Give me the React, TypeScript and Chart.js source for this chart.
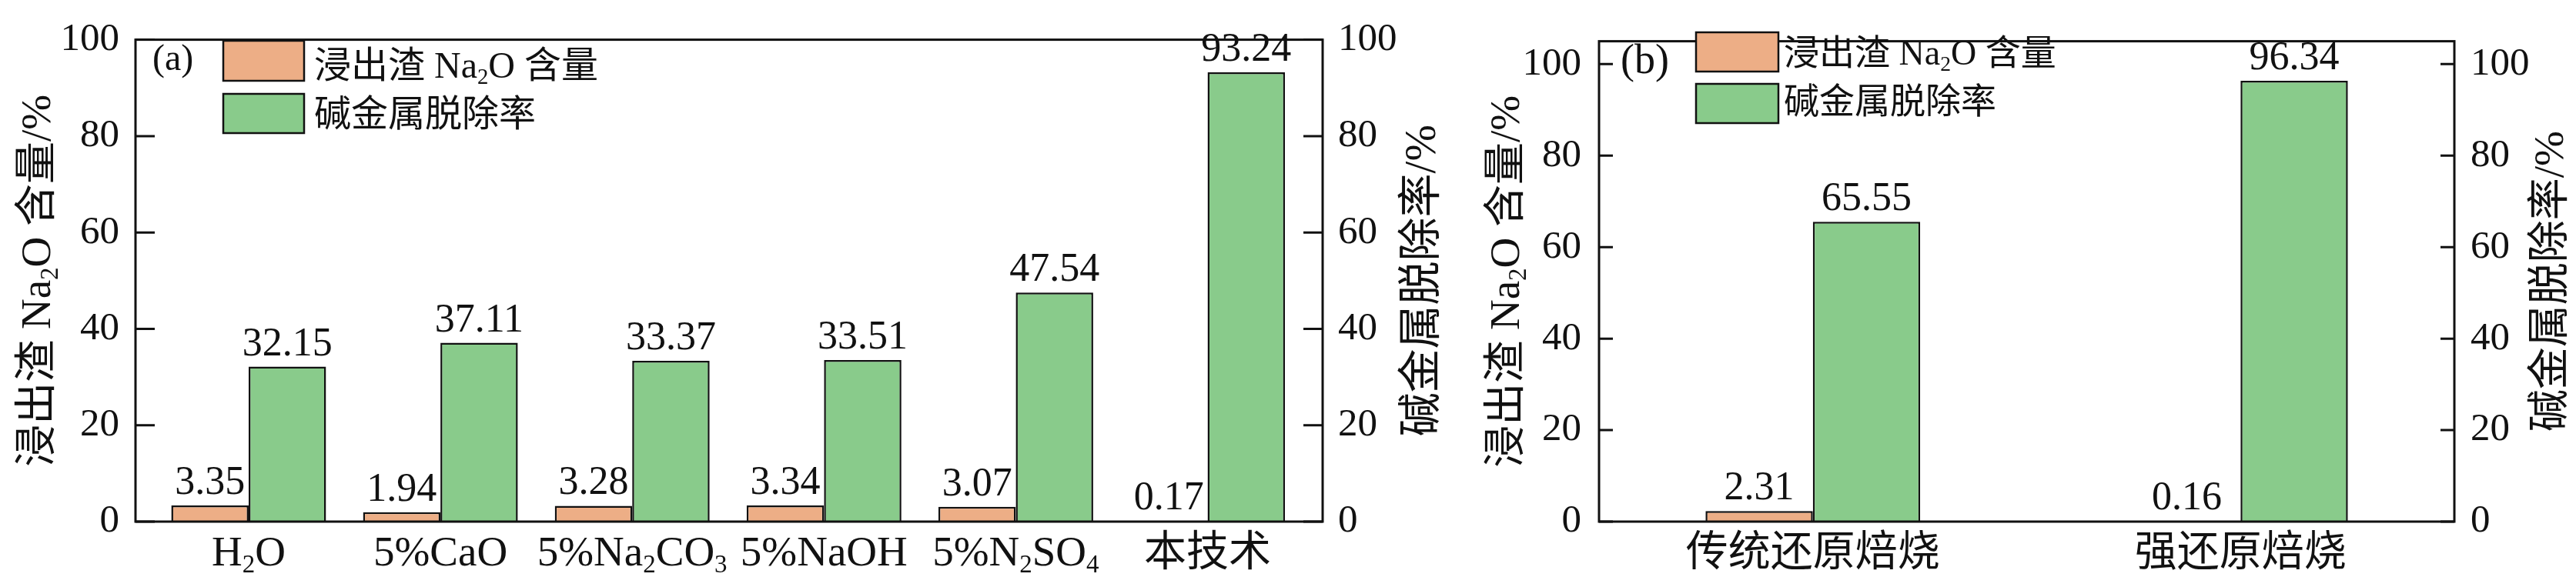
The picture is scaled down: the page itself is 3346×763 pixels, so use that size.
import React, { useEffect, useRef } from 'react';
import { Chart, registerables } from 'chart.js';
Chart.register(...registerables);

// ---------- data ----------
const categoriesA = ['H_2O', '5%CaO', '5%Na_2CO_3', '5%NaOH', '5%N_2SO_4', '本技术'];
const na2oA = [3.35, 1.94, 3.28, 3.34, 3.07, 0.17];
const removalA = [32.15, 37.11, 33.37, 33.51, 47.54, 93.24];

const categoriesB = ['传统还原焙烧', '强还原焙烧'];
const na2oB = [2.31, 0.16];
const removalB = [65.55, 96.34];

const yTicksA = [0, 20, 40, 60, 80, 100];
const yTicksB = [0, 20, 40, 60, 80, 100];

const legendLabels = ['浸出渣 Na_2O 含量', '碱金属脱除率'];
const leftTitle = '浸出渣 Na_2O 含量/%';
const rightTitle = '碱金属脱除率/%';

const ORANGE = '#EDAE86';
const GREEN = '#89CB8B';
const INK = '#111111';
const FAMILY = "'Liberation Serif', 'Noto Sans CJK SC', serif";
const H = 763;

type Seg = { t: string; sub: boolean };
function parseRich(s: string): Seg[] {
  const segs: Seg[] = [];
  let buf = '';
  for (let i = 0; i < s.length; i++) {
    if (s[i] === '_' && i + 1 < s.length) {
      if (buf) { segs.push({ t: buf, sub: false }); buf = ''; }
      segs.push({ t: s[i + 1], sub: true });
      i++;
    } else buf += s[i];
  }
  if (buf) segs.push({ t: buf, sub: false });
  return segs;
}

function drawRich(ctx: CanvasRenderingContext2D, s: string, x: number, y: number, size: number, align: 'left' | 'center' | 'right') {
  const segs = parseRich(s);
  const subSize = size * 0.6;
  const fontOf = (sub: boolean) => `${sub ? subSize : size}px ${FAMILY}`;
  let w = 0;
  for (const seg of segs) { ctx.font = fontOf(seg.sub); w += ctx.measureText(seg.t).width; }
  let cx = align === 'center' ? x - w / 2 : align === 'right' ? x - w : x;
  ctx.textAlign = 'left';
  ctx.textBaseline = 'alphabetic';
  for (const seg of segs) {
    ctx.font = fontOf(seg.sub);
    ctx.fillText(seg.t, cx, y + (seg.sub ? size * 0.17 : 0));
    cx += ctx.measureText(seg.t).width;
  }
}

type Panel = {
  canvasLeft: number; canvasWidth: number;
  plotLeft: number; plotRight: number; plotTop: number; plotBottom: number;
  xMin: number; xMax: number; yMax: number; cp: number;
  leftPad: number; rightPad: number; tickLen: number;
  tickSize: number; dataSize: number; xLabelSize: number; xLabelBase: number;
  label: string; labelX: number; labelBase: number; labelSize: number;
  boxX0: number; boxX1: number; rows: { top: number; bottom: number; base: number }[];
  legendTextX: number; legendSize: number;
  leftTitleX: number; rightTitleX: number; leftTitleSize: number; rightTitleSize: number;
  categories: string[]; na2o: number[]; removal: number[]; yTicks: number[];
};

const panelA: Panel = {
  canvasLeft: 0, canvasWidth: 1880,
  plotLeft: 176, plotRight: 1718, plotTop: 33, plotBottom: 678,
  xMin: -0.59, xMax: 5.6, yMax: 100, cp: 0.807,
  leftPad: 21, rightPad: 20, tickLen: 25,
  tickSize: 51, dataSize: 52, xLabelSize: 55, xLabelBase: 735,
  label: '(a)', labelX: 198, labelBase: 91, labelSize: 48,
  boxX0: 290, boxX1: 395,
  rows: [{ top: 53, bottom: 105, base: 101 }, { top: 122, bottom: 173, base: 164 }],
  legendTextX: 408, legendSize: 48,
  leftTitleX: 44.5, rightTitleX: 1842, leftTitleSize: 55, rightTitleSize: 57,
  categories: categoriesA, na2o: na2oA, removal: removalA, yTicks: yTicksA,
};

const panelB: Panel = {
  canvasLeft: 1880, canvasWidth: 1466,
  plotLeft: 2077, plotRight: 3188, plotTop: 32, plotBottom: 678,
  xMin: -0.5, xMax: 1.5, yMax: 105, cp: 0.502,
  leftPad: 23, rightPad: 21, tickLen: 18,
  tickSize: 51, dataSize: 52, xLabelSize: 55, xLabelBase: 735,
  label: '(b)', labelX: 2105, labelBase: 95, labelSize: 54,
  boxX0: 2203, boxX1: 2310,
  rows: [{ top: 42, bottom: 93, base: 84 }, { top: 109, bottom: 160, base: 147 }],
  legendTextX: 2317, legendSize: 46,
  leftTitleX: 1952, rightTitleX: 3308, leftTitleSize: 55, rightTitleSize: 55,
  categories: categoriesB, na2o: na2oB, removal: removalB, yTicks: yTicksB,
};

function makePlugin(p: Panel) {
  const ox = p.canvasLeft;
  return {
    id: 'panelDecor' + p.label,
    afterDatasetsDraw(chart: any) {
      const ctx: CanvasRenderingContext2D = chart.ctx;
      ctx.save();
      ctx.fillStyle = INK;
      chart.data.datasets.forEach((ds: any, di: number) => {
        const meta = chart.getDatasetMeta(di);
        meta.data.forEach((el: any, i: number) => {
          const v = ds.data[i] as number;
          ctx.font = `${p.dataSize}px ${FAMILY}`;
          ctx.textAlign = 'center';
          ctx.textBaseline = 'alphabetic';
          ctx.fillText(v.toFixed(2), el.x, el.y - 15);
        });
      });
      ctx.restore();
    },
    afterDraw(chart: any) {
      const ctx: CanvasRenderingContext2D = chart.ctx;
      const a = chart.chartArea;
      const xs = chart.scales.x;
      const yl = chart.scales.y;
      const yr = chart.scales.y1;
      ctx.save();
      // frame
      ctx.strokeStyle = INK;
      ctx.lineWidth = 3;
      ctx.strokeRect(a.left, a.top, a.right - a.left, a.bottom - a.top);
      // inward ticks
      ctx.lineWidth = 3;
      ctx.beginPath();
      yl.ticks.forEach((t: any) => {
        const y = yl.getPixelForValue(t.value);
        ctx.moveTo(a.left, y); ctx.lineTo(a.left + p.tickLen, y);
      });
      yr.ticks.forEach((t: any) => {
        const y = yr.getPixelForValue(t.value);
        ctx.moveTo(a.right - p.tickLen, y); ctx.lineTo(a.right, y);
      });
      ctx.stroke();
      // x labels
      ctx.fillStyle = INK;
      p.categories.forEach((c, i) => {
        drawRich(ctx, c, xs.getPixelForValue(i), p.xLabelBase, p.xLabelSize, 'center');
      });
      // panel label
      ctx.font = `${p.labelSize}px ${FAMILY}`;
      ctx.textAlign = 'left';
      ctx.textBaseline = 'alphabetic';
      ctx.fillText(p.label, p.labelX - ox, p.labelBase);
      // legend
      chart.data.datasets.forEach((ds: any, di: number) => {
        const r = p.rows[di];
        ctx.fillStyle = ds.backgroundColor;
        ctx.fillRect(p.boxX0 - ox, r.top, p.boxX1 - p.boxX0, r.bottom - r.top);
        ctx.strokeStyle = INK;
        ctx.lineWidth = 2.5;
        ctx.strokeRect(p.boxX0 - ox, r.top, p.boxX1 - p.boxX0, r.bottom - r.top);
        ctx.fillStyle = INK;
        drawRich(ctx, ds.label, p.legendTextX - ox, r.base, p.legendSize, 'left');
      });
      // axis titles (rotated)
      const cy = (a.top + a.bottom) / 2;
      const titles: [string, number, number][] = [
        [leftTitle, p.leftTitleX - ox, p.leftTitleSize],
        [rightTitle, p.rightTitleX - ox, p.rightTitleSize],
      ];
      titles.forEach(([t, x, s]) => {
        ctx.save();
        ctx.translate(x, cy);
        ctx.rotate(-Math.PI / 2);
        ctx.fillStyle = INK;
        drawRich(ctx, t, 0, 0.38 * s, s, 'center');
        ctx.restore();
      });
      ctx.restore();
    },
  };
}

function buildChart(canvas: HTMLCanvasElement, p: Panel) {
  const tickFont = { family: FAMILY, size: p.tickSize };
  const yCommon = {
    type: 'linear' as const,
    min: 0,
    max: p.yMax,
    grid: { display: false, drawTicks: false },
    border: { display: false },
    afterBuildTicks: (s: any) => { s.ticks = p.yTicks.map((v) => ({ value: v })); },
  };
  return new Chart(canvas, {
    type: 'bar',
    data: {
      labels: p.categories.map((_, i) => i),
      datasets: [
        {
          label: legendLabels[0], data: p.na2o, backgroundColor: ORANGE, borderColor: INK,
          borderWidth: 2.5, yAxisID: 'y', categoryPercentage: p.cp, barPercentage: 1,
        },
        {
          label: legendLabels[1], data: p.removal, backgroundColor: GREEN, borderColor: INK,
          borderWidth: 2.5, yAxisID: 'y1', categoryPercentage: p.cp, barPercentage: 1,
        },
      ],
    },
    options: {
      animation: false,
      responsive: false,
      devicePixelRatio: 1,
      layout: { padding: { top: p.plotTop, bottom: 0, left: 0, right: 0 } },
      plugins: { legend: { display: false }, tooltip: { enabled: false } },
      scales: {
        x: {
          type: 'linear', min: p.xMin, max: p.xMax, offset: false,
          grid: { display: false, drawTicks: false }, border: { display: false },
          ticks: { display: false },
          afterBuildTicks: (s: any) => { s.ticks = p.categories.map((_, i) => ({ value: i })); },
          afterFit: (s: any) => { s.height = H - p.plotBottom; },
        },
        y: {
          ...yCommon, position: 'left',
          ticks: { padding: p.leftPad, font: tickFont, color: INK },
          afterFit: (s: any) => { s.width = p.plotLeft - p.canvasLeft; },
        },
        y1: {
          ...yCommon, position: 'right',
          ticks: { padding: p.rightPad, font: tickFont, color: INK },
          afterFit: (s: any) => { s.width = p.canvasLeft + p.canvasWidth - p.plotRight; },
        },
      } as any,
    },
    plugins: [makePlugin(p)],
  } as any);
}

export default function App() {
  const refA = useRef<HTMLCanvasElement>(null);
  const refB = useRef<HTMLCanvasElement>(null);
  useEffect(() => {
    document.body.style.margin = '0';
    const ca = buildChart(refA.current!, panelA);
    const cb = buildChart(refB.current!, panelB);
    return () => { ca.destroy(); cb.destroy(); };
  }, []);
  return (
    <div style={{ position: 'fixed', left: 0, top: 0, width: 3346, height: H, background: '#fff' }}>
      <canvas ref={refA} width={panelA.canvasWidth} height={H}
        style={{ position: 'absolute', left: panelA.canvasLeft, top: 0, width: panelA.canvasWidth + 'px', height: H + 'px' }} />
      <canvas ref={refB} width={panelB.canvasWidth} height={H}
        style={{ position: 'absolute', left: panelB.canvasLeft, top: 0, width: panelB.canvasWidth + 'px', height: H + 'px' }} />
    </div>
  );
}
